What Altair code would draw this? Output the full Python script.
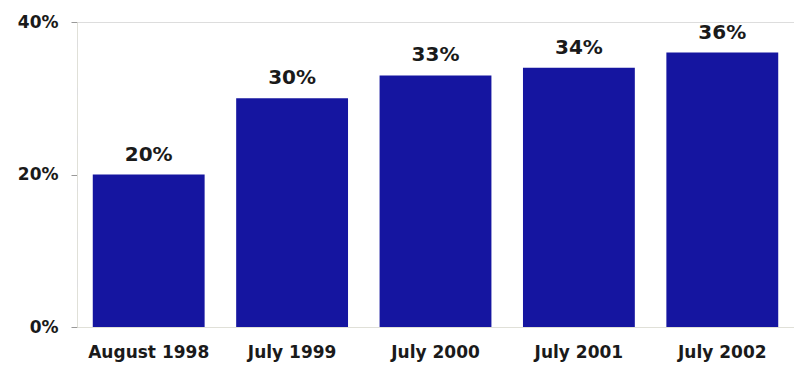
import altair as alt
import pandas as pd

categories = ["August 1998", "July 1999", "July 2000", "July 2001", "July 2002"]
values = [0.20, 0.30, 0.33, 0.34, 0.36]
labels = ["20%", "30%", "33%", "34%", "36%"]

df = pd.DataFrame({"period": categories, "value": values, "label": labels})

x = alt.X("period:N", sort=categories, title=None,
          scale=alt.Scale(paddingInner=0.22, paddingOuter=0.11),
          axis=alt.Axis(labelAngle=0, labelFont="DejaVu Sans", labelFontWeight="bold",
                        labelFontSize=17, labelColor="#1a1a1a", labelPadding=17,
                        ticks=False, domainColor="#e0e0d8", domainWidth=1))
y = alt.Y("value:Q", title=None,
          scale=alt.Scale(domain=[0, 0.4]),
          axis=alt.Axis(values=[0, 0.2, 0.4], format=".0%", grid=False,
                        labelFont="DejaVu Sans", labelFontWeight="bold",
                        labelFontSize=17, labelColor="#1a1a1a", labelPadding=13,
                        tickSize=6, tickColor="#999", domainColor="#e0e0d8",
                        domainDash=[40, 8]))

bars = alt.Chart(df).mark_bar(color="#1515a0").encode(x=x, y=y)
text = alt.Chart(df).mark_text(dy=-14, font="DejaVu Sans", fontWeight="bold",
                               fontSize=20, color="#1a1a1a", baseline="alphabetic").encode(
    x=alt.X("period:N", sort=categories), y="value:Q", text="label:N")

chart = (bars + text).properties(
    width=717, height=305,
    autosize=alt.AutoSizeParams(type="none"),
    padding={"left": 77, "top": 22, "right": 0, "bottom": 41},
).configure_view(stroke=None).configure(background="white")

chart.save("out.html", embed_options={"renderer": "svg", "actions": False})
